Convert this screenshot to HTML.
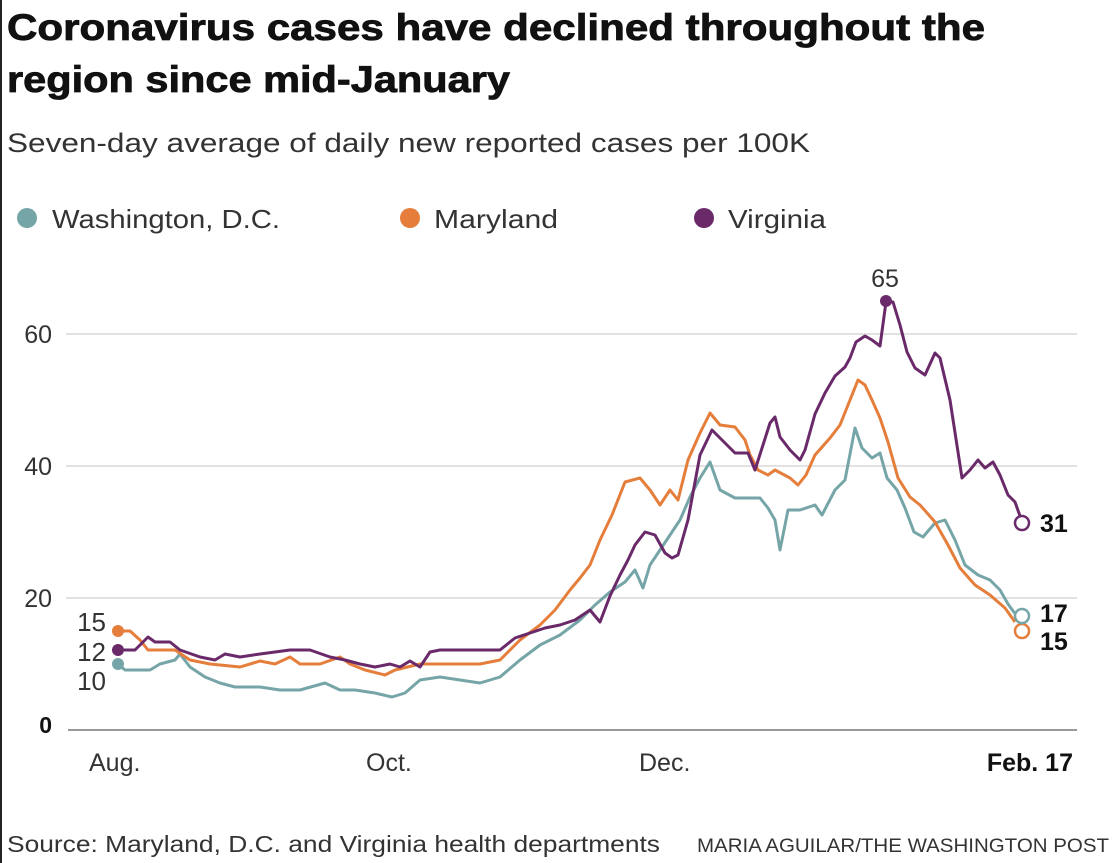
<!DOCTYPE html>
<html><head><meta charset="utf-8"><style>
html,body{margin:0;padding:0;background:#fff;}
body{width:1115px;height:863px;overflow:hidden;position:relative;font-family:"Liberation Sans",sans-serif;}
</style></head><body>
<div style="position:absolute;left:0;top:0;width:2px;height:863px;background:#222"></div>
<svg width="1115" height="863" style="position:absolute;left:0;top:0" font-family="Liberation Sans, sans-serif">
<text x="7" y="40" font-size="37" font-weight="bold" fill="#111" stroke="#111" stroke-width="0.8" textLength="978" lengthAdjust="spacingAndGlyphs">Coronavirus cases have declined throughout the</text>
<text x="7" y="92" font-size="37" font-weight="bold" fill="#111" stroke="#111" stroke-width="0.8" textLength="503" lengthAdjust="spacingAndGlyphs">region since mid-January</text>
<text x="7" y="152" font-size="27" fill="#333" textLength="803" lengthAdjust="spacingAndGlyphs">Seven-day average of daily new reported cases per 100K</text>
<circle cx="27" cy="218" r="10" fill="#76a5a8"/><text x="52" y="228" font-size="26" fill="#333" textLength="228" lengthAdjust="spacingAndGlyphs">Washington, D.C.</text>
<circle cx="410" cy="218" r="10" fill="#e57e3b"/><text x="434" y="228" font-size="26" fill="#333" textLength="124" lengthAdjust="spacingAndGlyphs">Maryland</text>
<circle cx="704" cy="218" r="10" fill="#6a2a6a"/><text x="728" y="228" font-size="26" fill="#333" textLength="98" lengthAdjust="spacingAndGlyphs">Virginia</text>
<g stroke="#e2e2e2" stroke-width="2"><line x1="66" y1="334" x2="1077" y2="334"/><line x1="66" y1="466" x2="1077" y2="466"/><line x1="66" y1="598" x2="1077" y2="598"/></g>
<line x1="68" y1="730" x2="1077" y2="730" stroke="#999" stroke-width="2"/>
<g font-size="25" fill="#333" text-anchor="end"><text x="52" y="343">60</text><text x="52" y="475">40</text><text x="52" y="607">20</text></g>
<text x="52" y="733" font-size="23" font-weight="bold" fill="#111" text-anchor="end">0</text>
<g font-size="26" fill="#333" text-anchor="end"><text x="106" y="631">15</text><text x="106" y="661">12</text><text x="106" y="690">10</text></g>
<g font-size="25" fill="#333"><text x="89" y="771">Aug.</text><text x="366" y="771">Oct.</text><text x="639" y="771">Dec.</text></g>
<text x="1073" y="771" font-size="25" font-weight="bold" fill="#111" text-anchor="end">Feb. 17</text>
<g fill="none" stroke-width="3" stroke-linejoin="round">
<polyline stroke="#76a5a8" points="118,664 125,670 150,670 160,664 175,660 180,654 190,667 205,677 220,683 235,687 260,687 280,690 300,690 325,683 340,690 355,690 375,693 392,697 405,693 420,680 440,677 460,680 480,683 500,677 520,660 540,645 560,635 580,620 595,605 610,592 625,582 635,570 643,588 650,565 660,550 670,535 680,520 690,497 700,478 710,462 720,490 735,498 760,498 768,508 775,520 780,550 788,510 800,510 815,505 822,515 835,490 845,480 855,428 862,448 872,458 880,453 887,478 897,490 905,508 914,532 923,537 935,523 945,520 955,540 965,565 978,575 990,580 1000,590 1008,604 1016,615"/>
<polyline stroke="#e57e3b" points="118,631 130,631 140,640 148,650 175,650 190,660 210,664 240,667 260,661 275,664 290,657 300,664 320,664 340,657 350,664 365,670 385,675 395,670 420,664 440,664 480,664 500,660 510,650 520,640 540,625 555,610 570,590 580,578 590,565 600,540 612,515 625,482 640,478 650,490 660,505 670,490 678,500 688,460 700,433 710,413 720,425 735,427 745,440 750,455 758,470 768,475 775,470 790,478 798,485 806,475 815,455 830,438 840,425 850,400 858,380 865,385 872,400 880,418 888,442 898,478 910,497 920,505 935,522 948,545 960,568 975,585 990,595 1005,608 1015,622"/>
<polyline stroke="#6a2a6a" points="118,650 135,650 148,637 155,642 170,642 180,650 200,657 215,660 225,654 240,657 260,654 290,650 310,650 330,657 345,660 360,664 375,667 390,664 400,667 410,661 420,667 430,652 440,650 450,650 470,650 500,650 515,638 530,633 545,628 560,625 575,620 590,610 600,622 610,596 620,575 628,560 635,545 645,532 655,535 665,553 672,558 678,555 688,520 700,455 712,430 722,440 735,453 748,453 755,470 770,423 775,417 780,437 790,450 800,460 805,450 815,414 825,393 835,376 845,367 850,358 856,342 865,336 872,340 880,346 886,302 893,302 900,325 907,352 915,368 925,375 935,353 940,358 950,400 962,478 970,470 978,460 985,468 993,462 1000,475 1008,495 1015,502 1020,516"/>
</g>
<circle cx="118" cy="664" r="6" fill="#76a5a8"/><circle cx="118" cy="631" r="6" fill="#e57e3b"/><circle cx="118" cy="650" r="6" fill="#6a2a6a"/>
<circle cx="886" cy="301" r="6" fill="#6a2a6a"/>
<text x="885" y="287" font-size="25" fill="#333" text-anchor="middle">65</text>
<g fill="#fff" stroke-width="2.5"><circle cx="1022" cy="523" r="7" stroke="#6a2a6a"/><circle cx="1022" cy="631" r="7" stroke="#e57e3b"/><circle cx="1022" cy="616" r="7" stroke="#76a5a8"/></g>
<g font-size="25" font-weight="bold" fill="#111"><text x="1040" y="532">31</text><text x="1040" y="622">17</text><text x="1040" y="650">15</text></g>
<text x="7" y="852" font-size="23" fill="#333" textLength="653" lengthAdjust="spacingAndGlyphs">Source: Maryland, D.C. and Virginia health departments</text>
<text x="697" y="852" font-size="19" fill="#333" textLength="412" lengthAdjust="spacingAndGlyphs">MARIA AGUILAR/THE WASHINGTON POST</text>
</svg>
</body></html>
